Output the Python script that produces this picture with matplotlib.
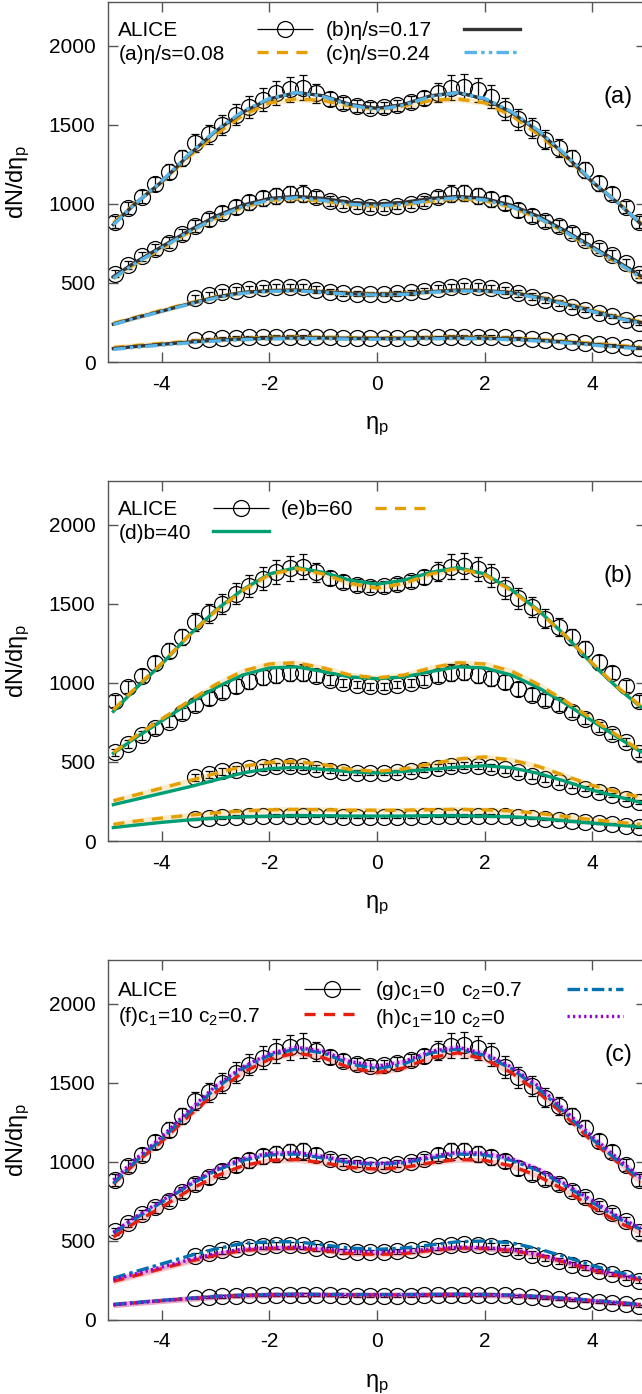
import numpy as np
import matplotlib
matplotlib.use("Agg")
import matplotlib.pyplot as plt
from matplotlib.container import ErrorbarContainer
from matplotlib.legend_handler import HandlerErrorbar

plt.rcParams['font.family'] = ['Liberation Sans', 'DejaVu Sans']
plt.rcParams['font.size'] = 15
plt.rcParams['mathtext.fontset'] = 'custom'
plt.rcParams['mathtext.rm'] = 'Liberation Sans'
plt.rcParams['mathtext.it'] = 'Liberation Sans:italic'
plt.rcParams['lines.scale_dashes'] = False

# ALICE data points (bin centres)
eta_full = np.arange(-4.875, 4.9, 0.25)
eta_fwd = np.arange(-3.375, 4.9, 0.25)

alice_0_5 = [885, 975, 1045, 1128, 1205, 1290, 1385, 1440, 1500, 1565, 1615, 1660, 1700, 1725, 1735, 1700, 1665, 1640, 1620, 1610,
             1612, 1625, 1645, 1670, 1705, 1735, 1740, 1720, 1680, 1600, 1535, 1480, 1405, 1355, 1290, 1215, 1130, 1065, 980, 885]
err_0_5 = [38, 40, 42, 45, 48, 52, 58, 60, 62, 65, 68, 72, 75, 80, 80, 60, 45, 40, 36, 35,
           35, 36, 40, 45, 60, 80, 80, 75, 72, 68, 65, 62, 60, 58, 52, 48, 45, 42, 40, 38]

alice_10_20 = [560, 615, 668, 712, 755, 808, 860, 903, 945, 978, 1010, 1036, 1052, 1064, 1066, 1045, 1020, 1000, 988, 980,
               980, 988, 1000, 1020, 1045, 1066, 1068, 1052, 1030, 1005, 960, 925, 893, 860, 818, 775, 722, 678, 626, 556]
err_10_20 = [25, 27, 30, 32, 34, 36, 38, 40, 42, 44, 46, 48, 50, 52, 52, 40, 30, 24, 22, 22,
             22, 22, 24, 30, 40, 52, 52, 50, 48, 46, 44, 42, 40, 38, 36, 34, 32, 30, 27, 25]

alice_30_40 = [402, 423, 440, 452, 462, 468, 472, 474, 472, 458, 446, 436, 432, 430, 430, 434, 442,
               452, 465, 474, 478, 476, 468, 455, 436, 414, 393, 372, 350, 330, 310, 290, 268, 245]
err_30_40 = [22, 22, 22, 22, 22, 22, 22, 22, 22, 20, 18, 16, 15, 15, 15, 15, 16,
             18, 20, 22, 22, 22, 22, 22, 22, 20, 19, 18, 17, 16, 15, 14, 13, 12]

alice_50_60 = [140, 146, 150, 154, 157, 159, 160, 160, 160, 158, 156, 154, 153, 152, 152, 153, 154,
               156, 158, 160, 161, 161, 160, 157, 152, 146, 140, 133, 126, 119, 112, 105, 98, 90]
err_50_60 = [8, 8, 8, 8, 8, 8, 8, 8, 8, 8, 7, 7, 7, 7, 7, 7, 7,
             7, 8, 8, 8, 8, 8, 8, 8, 8, 7, 7, 7, 6, 6, 6, 5, 5]

# model curves
eta_m = [-4.9, -4.5, -4, -3.5, -3, -2.5, -2, -1.5, -1, -0.5, 0, 0.5, 1, 1.5, 2, 2.5, 3, 3.5, 4, 4.5, 4.9]

# panel (a): eta/s
a_008 = [[880, 1005, 1140, 1300, 1440, 1560, 1640, 1665, 1655, 1620, 1600, 1620, 1655, 1665, 1640, 1560, 1440, 1300, 1140, 1005, 880],
         [530, 620, 720, 820, 910, 980, 1022, 1035, 1018, 995, 985, 995, 1018, 1035, 1022, 980, 910, 820, 720, 620, 530],
         [245, 282, 328, 372, 412, 440, 452, 455, 446, 434, 430, 434, 446, 455, 452, 440, 412, 372, 328, 282, 255],
         [92, 104, 118, 130, 142, 150, 155, 157, 156, 154, 153, 154, 156, 157, 155, 150, 142, 130, 118, 104, 95]]
a_017 = [[870, 1000, 1140, 1310, 1460, 1580, 1665, 1705, 1685, 1630, 1605, 1630, 1685, 1705, 1665, 1580, 1460, 1310, 1140, 1000, 875],
         [540, 630, 730, 830, 922, 992, 1035, 1048, 1035, 1010, 1000, 1010, 1035, 1048, 1035, 992, 922, 830, 730, 630, 545],
         [240, 278, 322, 368, 410, 440, 452, 455, 445, 432, 428, 432, 445, 455, 452, 440, 410, 368, 322, 278, 250],
         [85, 98, 112, 126, 138, 146, 151, 153, 152, 150, 149, 150, 152, 153, 151, 146, 138, 126, 112, 98, 88]]
a_024 = [[868, 1000, 1145, 1315, 1465, 1585, 1668, 1705, 1680, 1625, 1595, 1625, 1680, 1705, 1668, 1585, 1465, 1315, 1145, 1000, 880],
         [530, 622, 722, 822, 912, 982, 1025, 1040, 1022, 998, 988, 998, 1022, 1040, 1025, 982, 912, 822, 722, 622, 535],
         [238, 275, 320, 365, 405, 435, 447, 450, 441, 428, 424, 428, 441, 450, 447, 435, 405, 365, 320, 275, 245],
         [80, 93, 107, 121, 133, 141, 146, 148, 147, 145, 144, 145, 147, 148, 146, 141, 133, 121, 107, 93, 82]]

# panel (b): impact parameter
b_40 = [[820, 960, 1120, 1300, 1460, 1590, 1690, 1730, 1700, 1650, 1625, 1650, 1700, 1730, 1690, 1590, 1460, 1300, 1120, 960, 850],
        [555, 650, 760, 870, 970, 1050, 1095, 1102, 1072, 1038, 1027, 1038, 1072, 1102, 1095, 1050, 970, 870, 760, 650, 565],
        [230, 262, 302, 342, 386, 430, 458, 466, 453, 438, 430, 440, 453, 468, 476, 463, 428, 378, 322, 278, 244],
        [85, 100, 118, 133, 145, 153, 157, 160, 160, 158, 158, 158, 160, 160, 157, 153, 143, 128, 113, 100, 90]]
b_60 = [[830, 965, 1125, 1300, 1455, 1585, 1685, 1725, 1690, 1630, 1600, 1630, 1690, 1725, 1685, 1585, 1455, 1300, 1125, 965, 855],
        [560, 660, 772, 885, 990, 1075, 1120, 1128, 1095, 1050, 1032, 1050, 1095, 1128, 1120, 1075, 990, 885, 772, 660, 570],
        [255, 290, 335, 380, 428, 472, 498, 503, 483, 453, 440, 456, 488, 518, 532, 512, 472, 412, 352, 308, 276],
        [105, 125, 145, 163, 178, 190, 197, 200, 198, 195, 195, 195, 198, 200, 197, 190, 175, 155, 135, 118, 105]]

# panel (c): c1, c2
c_f = [[860, 990, 1130, 1290, 1440, 1565, 1650, 1690, 1660, 1595, 1565, 1595, 1660, 1690, 1650, 1565, 1440, 1290, 1130, 990, 870],
       [525, 615, 715, 820, 910, 975, 1010, 1015, 995, 965, 955, 965, 995, 1015, 1010, 975, 910, 820, 715, 615, 555],
       [245, 280, 325, 370, 410, 440, 452, 455, 440, 420, 415, 420, 440, 455, 452, 440, 410, 365, 315, 280, 255],
       [96, 108, 122, 135, 147, 155, 159, 161, 160, 159, 159, 159, 160, 161, 159, 155, 147, 135, 122, 108, 96]]
c_g = [[865, 1000, 1145, 1310, 1465, 1590, 1675, 1715, 1690, 1620, 1590, 1620, 1690, 1715, 1675, 1590, 1465, 1310, 1145, 1000, 890],
       [550, 640, 745, 850, 945, 1010, 1045, 1050, 1025, 995, 985, 995, 1025, 1050, 1045, 1010, 945, 850, 745, 640, 575],
       [265, 305, 355, 405, 450, 485, 495, 495, 475, 455, 447, 455, 475, 495, 500, 488, 450, 400, 345, 300, 266],
       [98, 110, 124, 137, 149, 157, 161, 163, 162, 161, 161, 161, 162, 163, 161, 157, 149, 137, 124, 110, 98]]
c_h = [[885, 1015, 1160, 1325, 1480, 1600, 1685, 1725, 1700, 1635, 1605, 1635, 1700, 1725, 1685, 1600, 1480, 1325, 1160, 1015, 900],
       [555, 650, 755, 860, 955, 1020, 1055, 1060, 1035, 1000, 990, 1000, 1035, 1060, 1055, 1020, 955, 860, 755, 650, 580],
       [255, 290, 335, 380, 420, 448, 457, 460, 448, 435, 429, 435, 448, 460, 457, 445, 415, 370, 320, 285, 260],
       [96, 108, 122, 135, 147, 155, 159, 161, 160, 159, 159, 159, 160, 161, 159, 155, 147, 135, 122, 108, 96]]

BLACK = '#333333'
ORANGE = '#E69F00'
SKY = '#56B4E9'
GREEN = '#009E73'
RED = '#E51E10'
BLUE = '#0072B2'
PURPLE = '#9400D3'

DASHED = (0, (8, 6))
DASHDOT2 = (0, (9, 3, 2.5, 3, 2.5, 3))
DASHDOT = (0, (9, 3, 2.5, 3))
DOTTED = (0, (1.6, 2.4))

DPI = 100
fig = plt.figure(figsize=(6.42, 13.94), dpi=DPI)
bottoms = [0.7403, 0.3967, 0.0531]
axes = [fig.add_axes([0.1682, b, 0.838, 0.2585]) for b in bottoms]


def draw_data(ax):
    for x, y, e in [(eta_full, alice_0_5, err_0_5), (eta_full, alice_10_20, err_10_20),
                    (eta_fwd, alice_30_40, err_30_40), (eta_fwd, alice_50_60, err_50_60)]:
        ax.errorbar(x, y, yerr=e, fmt='o', ms=11.5, mfc='none', mec='black', mew=0.9,
                    ecolor='black', elinewidth=0.9, capsize=3, capthick=0.9, zorder=2)
    # legend sample: horizontal bar with caps like the gnuplot key
    h = ax.errorbar([], [], xerr=[], fmt='o', ms=11.5, mfc='none', mec='black', mew=0.9,
                    ecolor='black', elinewidth=0.9, capsize=4, capthick=0.9, label='ALICE')
    return h


def draw_model(ax, curves, color, ls, label, band=False):
    line = None
    for c in curves:
        if band:
            ax.fill_between(eta_m, np.array(c) - 18, np.array(c) + 18, color=color, alpha=0.2, lw=0, zorder=3)
        line, = ax.plot(eta_m, c, color=color, ls=ls, lw=2.4, zorder=4)
    line.set_label(label)
    return line


def style(ax, tag):
    ax.set_xlim(-5, 5)
    ax.set_ylim(0, 2280)
    ax.set_xticks([-4, -2, 0, 2, 4])
    ax.set_xticklabels(['-4', '-2', '0', '2', '4'])
    ax.set_yticks([0, 500, 1000, 1500, 2000])
    ax.tick_params(direction='in', top=True, right=True, length=7, width=1,
                   color='#555555', pad=9)
    for s in ax.spines.values():
        s.set_color('#555555')
        s.set_linewidth(1)
    ax.set_xlabel('η$_\\mathregular{p}$', fontsize=17, labelpad=15)
    ax.set_ylabel('dN/dη$_\\mathregular{p}$', fontsize=17, labelpad=12)
    ax.text(0.948, 0.735, tag, transform=ax.transAxes, ha='center', va='center', fontsize=17)


def legend(ax, handles, pad_px, colsp):
    leg = ax.legend(handles=handles, loc='upper left', bbox_to_anchor=(0.0, 0.974), ncol=2,
                    frameon=False, markerfirst=False, handlelength=2.7, handletextpad=1.0,
                    columnspacing=colsp, labelspacing=0.2, borderaxespad=0.2, borderpad=0.3,
                    fontsize=15, handler_map={ErrorbarContainer: HandlerErrorbar(xerr_size=1.35)})
    return (leg, pad_px)


legends = []

# panel (a)
ax = axes[0]
hd = draw_data(ax)
h1 = draw_model(ax, a_008, ORANGE, DASHED, '(a)η/s=0.08', band=True)
h2 = draw_model(ax, a_017, BLACK, '-', '(b)η/s=0.17')
h3 = draw_model(ax, a_024, SKY, DASHDOT2, '(c)η/s=0.24')
style(ax, '(a)')
legends.append(legend(ax, [hd, h1, h2, h3], 32, 0.6))

# panel (b)
ax = axes[1]
hd = draw_data(ax)
h1 = draw_model(ax, b_40, GREEN, '-', '(d)b=40')
h2 = draw_model(ax, b_60, ORANGE, DASHED, '(e)b=60', band=True)
style(ax, '(b)')
legends.append(legend(ax, [hd, h1, h2], 22, 0.55))

# panel (c)
ax = axes[2]
hd = draw_data(ax)
h1 = draw_model(ax, c_f, RED, DASHED, '(f)c$_\\mathregular{1}$=10 c$_\\mathregular{2}$=0.7', band=True)
h2 = draw_model(ax, c_g, BLUE, DASHDOT, '(g)c$_\\mathregular{1}$=0   c$_\\mathregular{2}$=0.7')
h3 = draw_model(ax, c_h, PURPLE, DOTTED, '(h)c$_\\mathregular{1}$=10 c$_\\mathregular{2}$=0', band=True)
style(ax, '(c)')
legends.append(legend(ax, [hd, h1, h2, h3], 44, 0.7))

# left-align key texts and line the samples up in each column (gnuplot style)
fig.canvas.draw()
r = fig.canvas.get_renderer()
for leg, pad_px in legends:
    for col in leg._legend_handle_box.get_children():
        col.align = 'left'
        items = col.get_children()
        widths = [it.get_children()[0].get_window_extent(r).width for it in items]
        maxw = max(widths)
        for it, w in zip(items, widths):
            it.sep = (pad_px + maxw - w) * 72.0 / DPI

fig.savefig('out.png', dpi=DPI)
